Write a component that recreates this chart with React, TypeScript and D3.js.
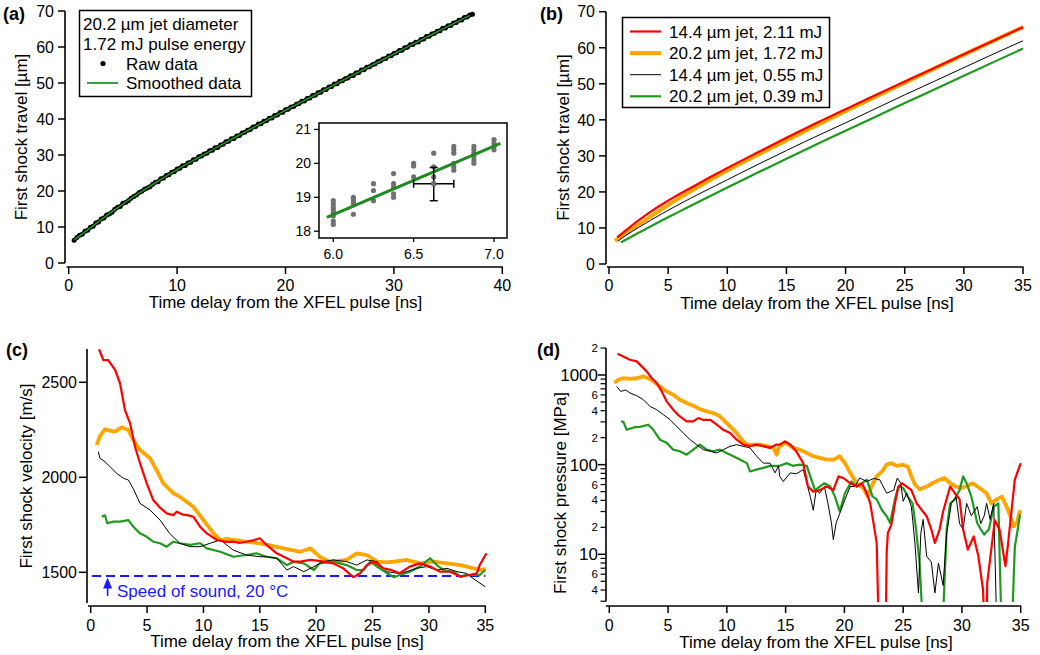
import React from "react";
import * as d3 from "d3";

type P = [number, number];

const FONT = "Arial, 'Liberation Sans', Helvetica, sans-serif";
const RED = "#ff0000";
const ORANGE = "#ffa500";
const BLACK = "#000000";
const GREEN = "#1f9a1f";
const BLUE = "#1a1aff";
const GRAY = "#707070";

// ---------- Panel (a): raw + smoothed travel (20.2 um jet, 1.72 mJ) ----------
const rawStart = 0.5;
const rawStep = 0.25;
const rawTravel = [6.3,7.1,7.7,8.0,8.8,9.1,9.9,10.2,11.1,11.4,12.2,12.5,13.3,13.6,14.1,14.9,15.5,15.7,16.6,16.8,17.3,18.0,18.5,18.9,19.6,19.9,20.5,20.8,21.2,21.9,22.4,22.6,23.4,23.6,24.3,24.5,25.2,25.4,26.1,26.3,27.0,27.1,27.8,28.0,28.7,28.8,29.5,29.7,30.3,30.5,31.2,31.3,32.0,32.1,32.8,33.0,33.7,33.8,34.5,34.6,35.3,35.4,36.1,36.3,36.9,37.1,37.8,37.9,38.6,38.7,39.4,39.5,40.2,40.3,41.0,41.1,41.8,41.9,42.6,42.7,43.3,43.5,44.1,44.3,44.9,45.0,45.7,45.8,46.5,46.6,47.3,47.4,48.1,48.2,48.9,49.0,49.7,49.8,50.5,50.6,51.2,51.4,52.0,52.1,52.8,52.9,53.6,53.7,54.4,54.5,55.1,55.3,55.9,56.1,56.7,56.8,57.5,57.6,58.2,58.4,59.0,59.1,59.8,59.9,60.6,60.7,61.3,61.4,62.1,62.2,62.9,63.0,63.6,63.8,64.4,64.5,65.2,65.3,65.9,66.0,66.7,66.8,67.4,67.5,68.2,68.3,68.9,69.1];
const smoothStart = 0.5;
const smoothStep = 0.5;
const smoothTravel = [6.45,7.55,8.67,9.79,10.91,12.04,13.16,14.26,15.33,16.39,17.43,18.44,19.42,20.38,21.34,22.29,23.22,24.15,25.06,25.95,26.82,27.67,28.51,29.35,30.18,31.01,31.84,32.67,33.5,34.32,35.14,35.96,36.78,37.59,38.4,39.2,40.01,40.82,41.63,42.42,43.21,43.99,44.77,45.55,46.33,47.12,47.92,48.72,49.52,50.3,51.08,51.86,52.64,53.42,54.2,54.98,55.76,56.53,57.31,58.08,58.86,59.63,60.4,61.17,61.94,62.71,63.47,64.23,64.98,65.74,66.49,67.25,68.0,68.76];

// Inset (a)
const insetFrames = [6.0, 6.125, 6.25, 6.375, 6.5, 6.625, 6.75, 6.875, 7.0];
const insetRaw = [
  [18.9, 18.8, 18.7, 18.63, 18.55, 18.45, 18.3, 18.2],
  [19.0, 18.92, 18.85, 18.78, 18.5],
  [19.4, 19.2, 18.9],
  [19.7, 19.4, 19.3, 19.1, 19.0],
  [20.0, 19.92, 19.6],
  [20.3, 19.9, 19.6, 19.4],
  [20.5, 20.4, 20.3, 20.0, 19.9, 19.8],
  [20.5, 20.4, 20.3, 20.2, 20.1, 20.0],
  [20.7, 20.6, 20.5, 20.4],
];
const insetFit: P[] = [[5.96, 18.41], [7.04, 20.59]];
const insetErr = { t: 6.625, v: 19.4, dt: 0.125, vLo: 18.9, vHi: 19.88 };

// ---------- Panel (b): travel for four conditions ----------
const travelRed: P[] = [[0.7,7.4],[1.5,9.52],[2.5,12.08],[3.5,14.46],[4.5,16.59],[5.5,18.55],[6.5,20.38],[7.5,22.19],[9,24.89],[10,26.65],[11,28.34],[12.5,30.84],[15,35.02],[16.5,37.48],[18,39.85],[20,42.96],[22,46.05],[25,50.61],[27.5,54.41],[30,58.22],[32.5,61.97],[35,65.72]];
const travelBlack: P[] = [[0.75,6.3],[1.5,8.08],[2.5,10.12],[3.5,12.1],[4.5,13.98],[5.5,15.8],[6.5,17.56],[7.5,19.25],[9,21.72],[10,23.36],[11,25.02],[12.5,27.48],[15,31.48],[16.5,33.85],[18,36.14],[20,39.17],[22,42.28],[25,46.93],[27.5,50.69],[30,54.48],[32.5,58.26],[35,61.93]];
const travelGreen: P[] = [[1.0,6.0],[1.5,6.89],[2.5,8.66],[3.5,10.42],[4.5,12.14],[5.5,13.82],[6.5,15.46],[7.5,17.11],[9,19.58],[10,21.22],[11,22.84],[12.5,25.23],[15,29.21],[16.5,31.58],[18,33.91],[20,36.97],[22,40.05],[25,44.65],[27.5,48.39],[30,52.21],[32.5,56.01],[35,59.76]];

const legendLabels = ["14.4 µm jet, 2.11 mJ", "20.2 µm jet, 1.72 mJ", "14.4 µm jet, 0.55 mJ", "20.2 µm jet, 0.39 mJ"];

// ---------- Panel (c): velocity ----------
const velRed: P[] = [[0.74,2674],[1.12,2617],[1.56,2617],[2.16,2565],[2.6,2495],[3.04,2354],[3.49,2285],[3.93,2161],[4.37,2075],[4.97,1968],[5.55,1880],[6.15,1840],[6.74,1810],[7.33,1801],[7.63,1819],[8.1,1805],[8.52,1801],[9.1,1793],[9.7,1740],[10.3,1705],[11.2,1670],[12.0,1660],[12.65,1661],[13.2,1655],[13.8,1661],[14.4,1668],[15.0,1679],[15.6,1644],[16.5,1600],[17.4,1574],[18.0,1556],[18.6,1556],[19.46,1565],[20.3,1560],[21.0,1552],[21.5,1547],[22.4,1521],[23.3,1474],[23.9,1495],[24.5,1538],[25.1,1556],[25.96,1521],[26.6,1513],[27.4,1495],[28.3,1530],[29.2,1547],[30.1,1530],[31.0,1503],[31.9,1503],[32.8,1477],[33.6,1486],[34.25,1495],[34.5,1538],[35.1,1600]];
const velOrange: P[] = [[0.53,2170],[0.8,2214],[1.25,2253],[1.7,2246],[2.16,2240],[2.75,2263],[3.34,2249],[3.78,2196],[4.37,2144],[5.26,2100],[5.85,2038],[6.44,1968],[7.33,1916],[7.9,1898],[9.1,1845],[10.0,1775],[10.9,1705],[11.5,1670],[12.1,1676],[12.65,1670],[13.8,1661],[15.0,1652],[16.0,1640],[17.1,1626],[18.6,1608],[19.5,1626],[20.3,1582],[21.2,1556],[22.0,1560],[22.7,1565],[23.6,1600],[24.5,1591],[25.4,1556],[26.2,1552],[26.9,1556],[28.0,1565],[29.2,1547],[30.4,1556],[31.6,1547],[32.8,1538],[33.95,1521],[34.8,1512],[35.0,1521]];
const velBlack: P[] = [[0.68,2135],[0.82,2100],[1.27,2082],[1.71,2056],[2.3,2021],[2.9,1995],[3.34,1986],[3.78,1940],[4.37,1863],[5.26,1828],[6.15,1775],[7.0,1705],[7.9,1653],[8.8,1635],[9.7,1635],[10.6,1653],[11.5,1670],[12.65,1617],[13.8,1591],[15.0,1582],[15.6,1582],[16.5,1574],[17.4,1512],[18.0,1530],[18.9,1503],[19.8,1530],[20.6,1556],[21.5,1565],[22.7,1556],[23.6,1538],[24.5,1565],[25.4,1556],[26.3,1503],[27.2,1495],[28.0,1503],[28.9,1521],[29.8,1530],[30.7,1512],[31.6,1521],[32.5,1503],[33.3,1495],[34.1,1460],[35.0,1424]];
const velGreen: P[] = [[0.98,1793],[1.27,1800],[1.47,1758],[2.0,1767],[2.6,1767],[3.34,1775],[3.78,1740],[4.37,1705],[4.97,1687],[5.55,1661],[6.15,1653],[6.74,1635],[7.33,1661],[7.9,1653],[8.8,1644],[9.7,1653],[10.3,1626],[11.5,1608],[12.65,1582],[13.8,1591],[14.7,1600],[15.6,1582],[16.5,1574],[17.4,1538],[18.0,1556],[18.9,1547],[19.8,1512],[20.3,1547],[21.5,1556],[22.7,1538],[23.6,1512],[24.2,1512],[24.8,1556],[25.4,1530],[26.3,1495],[26.9,1474],[27.4,1486],[28.3,1503],[29.2,1530],[30.1,1574],[30.7,1538],[31.3,1512],[32.2,1503],[32.8,1477],[33.3,1486],[33.95,1486],[34.5,1486],[35.0,1512]];
const soundSpeed = 1480;
const soundLabel = "Speed of sound, 20 °C";

// ---------- Panel (d): pressure (MPa) ----------
const presRed: P[] = [[0.71,1727],[1.19,1612],[1.76,1481],[2.33,1418],[2.76,1248],[3.18,1097],[3.6,925],[4.03,815],[4.46,656],[4.88,508],[5.44,410],[6.0,345],[6.58,304],[7.14,304],[7.57,331],[8.0,315],[8.6,315],[9.14,279],[9.7,245],[10.27,225],[10.84,190],[11.4,167],[11.97,161],[12.5,167],[13.1,161],[13.67,154],[14.2,167],[14.5,167],[14.95,182],[15.4,167],[15.9,141],[16.5,104],[16.9,57],[17.35,50],[17.9,52],[18.5,57],[19.06,52],[19.5,74],[19.9,71],[20.5,62],[21.05,57],[21.5,62],[21.9,48],[22.2,37],[22.46,23],[22.75,13.4],[22.95,1],[23.5,1],[23.6,10.4],[23.7,17.3],[24.0,21.4],[24.3,37],[24.6,57],[24.9,62],[25.3,57],[25.7,52],[26.15,37],[26.6,31],[27.0,26.6],[27.4,18.9],[27.7,13.4],[28.1,18.9],[28.4,30],[29.0,57],[29.4,48],[29.8,41],[30.1,18.9],[30.5,11.3],[31.0,15.8],[31.4,9.5],[31.8,4.0],[31.95,1],[32.1,1],[32.15,4.8],[32.8,24],[33.2,18.9],[33.7,7.4],[33.9,12.3],[34.2,29],[34.5,68],[34.8,88],[35.0,104]];
const presOrange: P[] = [[0.43,814],[0.77,887],[1.19,920],[1.76,905],[2.33,920],[2.9,964],[3.32,920],[3.74,849],[4.3,746],[4.88,656],[5.44,603],[6.0,530],[6.58,487],[7.14,455],[7.7,418],[8.29,393],[8.85,377],[9.42,345],[9.84,304],[10.27,267],[10.84,225],[11.26,190],[11.7,167],[12.27,167],[12.8,167],[13.4,161],[13.96,154],[14.24,129],[14.4,154],[14.5,160],[14.95,177],[15.65,154],[16.2,147],[16.8,135],[17.35,124],[17.9,119],[18.5,114],[19.1,114],[19.6,124],[20.05,104],[20.5,81],[21.05,62],[21.6,55],[22.0,44],[22.3,57],[22.75,74],[23.2,84],[23.6,100],[24.0,104],[24.45,97],[25.0,100],[25.4,95],[25.7,74],[26.0,60],[26.4,53],[27.0,57],[27.5,62],[28.1,68],[28.5,71],[29.0,62],[29.5,57],[29.95,55],[30.35,57],[30.9,62],[31.5,55],[32.1,48],[32.5,37],[32.95,41],[33.4,44],[33.8,34],[34.1,27],[34.4,20.5],[34.7,23],[34.95,31]];
const presBlack: P[] = [[0.63,746],[0.97,656],[1.4,680],[1.76,630],[2.33,588],[2.9,530],[3.46,447],[4.03,410],[4.6,361],[5.16,318],[5.73,267],[6.3,225],[6.87,190],[7.43,167],[8.0,147],[8.57,141],[9.14,135],[9.7,147],[10.27,160],[10.84,167],[11.4,160],[11.97,154],[12.54,124],[13.1,104],[13.67,104],[14.1,81],[14.4,97],[14.5,74],[14.8,65],[15.4,81],[15.9,79],[16.5,88],[16.8,62],[17.1,44],[17.35,31],[17.6,52],[17.9,48],[18.3,57],[18.6,37],[18.9,22.4],[19.06,14.6],[19.3,22.4],[19.6,28.4],[20.05,41],[20.5,57],[20.9,57],[21.3,71],[21.9,65],[22.5,70],[23.0,68],[23.6,48],[24.2,52],[24.5,71],[24.8,62],[25.0,39],[25.3,48],[25.7,34],[26.0,13.4],[26.3,3.7],[26.5,17],[26.7,24.5],[27.0,9.5],[27.4,8.2],[27.7,3.7],[28.0,8],[28.4,4.5],[28.7,17],[29.1,37],[29.5,44],[29.8,22],[30.1,19],[30.4,37],[30.8,27],[31.3,34],[31.6,22],[31.9,27],[32.1,37],[32.4,24.5],[32.7,37],[33.0,1]];
const presGreen: P[] = [[1.0,304],[1.2,300],[1.48,245],[2.05,260],[2.6,264],[3.32,279],[3.74,245],[4.3,190],[4.88,175],[5.44,147],[6.0,141],[6.58,129],[7.14,147],[7.7,167],[8.29,147],[8.85,141],[9.42,147],[9.98,135],[10.55,124],[11.1,114],[11.7,104],[11.97,84],[12.5,88],[13.1,92],[13.67,97],[14.2,97],[14.5,97],[15.1,104],[15.6,97],[16.2,100],[16.8,97],[17.1,74],[17.5,52],[17.9,57],[18.3,62],[18.8,57],[19.2,44],[19.6,30],[20.05,48],[20.6,65],[21.05,57],[21.5,62],[21.9,68],[22.4,44],[22.75,41],[23.2,31],[23.6,26.6],[23.9,22.4],[24.3,41],[24.6,57],[25.0,55],[25.4,44],[25.8,37],[26.1,18.9],[26.4,8],[26.75,1],[28.3,1],[28.7,19],[29.0,37],[29.4,41],[29.8,52],[30.1,74],[30.4,62],[30.8,44],[31.3,22.4],[31.6,19],[31.9,16.6],[32.3,19],[32.7,34],[33.1,37],[33.4,1],[34.2,1],[34.5,12],[34.95,28]];

const xTitle = "Time delay from the XFEL pulse [ns]";

type Scale = (v: number) => number;

function LeftAxis(props: { x: number; y0: number; y1: number; scale: Scale; ticks: number[]; fmt?: (v: number) => string; len?: number; fs?: number; gap?: number }) {
  const { x, y0, y1, scale, ticks, fmt = (v) => String(v), len = 7, fs = 16, gap = 4 } = props;
  return (
    <g>
      <line x1={x} x2={x} y1={y0} y2={y1} stroke="#000" strokeWidth={1.6} />
      {ticks.map((t) => (
        <g key={t}>
          <line x1={x - len} x2={x} y1={scale(t)} y2={scale(t)} stroke="#000" strokeWidth={1.5} />
          <text x={x - len - gap} y={scale(t)} dy="0.36em" textAnchor="end" fontSize={fs}>{fmt(t)}</text>
        </g>
      ))}
    </g>
  );
}

function BottomAxis(props: { y: number; x0: number; x1: number; scale: Scale; ticks: number[]; fmt?: (v: number) => string; len?: number; fs?: number; labelY: number }) {
  const { y, x0, x1, scale, ticks, fmt = (v) => String(v), len = 7, fs = 16, labelY } = props;
  return (
    <g>
      <line x1={x0} x2={x1} y1={y} y2={y} stroke="#000" strokeWidth={1.6} />
      {ticks.map((t) => (
        <g key={t}>
          <line x1={scale(t)} x2={scale(t)} y1={y} y2={y + len} stroke="#000" strokeWidth={1.5} />
          <text x={scale(t)} y={labelY} textAnchor="middle" fontSize={fs}>{fmt(t)}</text>
        </g>
      ))}
    </g>
  );
}

export default function App() {
  // ---- scales ----
  const xa = d3.scaleLinear().domain([0, 40]).range([68.7, 502.3]);
  const ya = d3.scaleLinear().domain([0, 70]).range([263, 11]);
  const xi = d3.scaleLinear().domain([5.911, 7.081]).range([319, 507]);
  const yi = d3.scaleLinear().domain([17.8, 21.19]).range([238, 123]);
  const xb = d3.scaleLinear().domain([0, 35]).range([609, 1023]);
  const yb = d3.scaleLinear().domain([0, 70]).range([264, 11.7]);
  const xc = d3.scaleLinear().domain([0, 35]).range([90.7, 485.3]);
  const yc = d3.scaleLinear().domain([1500, 2500]).range([572.3, 382.3]);
  const xd = d3.scaleLinear().domain([0, 35]).range([609.3, 1020.7]);
  const yd = d3.scaleLog().domain([3, 2000]).range([601.2, 348]);

  const rawPts: P[] = rawTravel.map((v, i) => [rawStart + i * rawStep, v]);
  const smoothPts: P[] = smoothTravel.map((v, i) => [smoothStart + i * smoothStep, v]);
  const orangeTravel: P[] = smoothPts.filter((p) => p[0] <= 35);

  const lineA = d3.line<P>().x((d) => xa(d[0])).y((d) => ya(d[1])).curve(d3.curveMonotoneX);
  const lineRaw = d3.line<P>().x((d) => xa(d[0])).y((d) => ya(d[1]));
  const lineI = d3.line<P>().x((d) => xi(d[0])).y((d) => yi(d[1]));
  const lineB = d3.line<P>().x((d) => xb(d[0])).y((d) => yb(d[1])).curve(d3.curveMonotoneX);
  const lineC = d3.line<P>().x((d) => xc(d[0])).y((d) => yc(d[1]));
  const lineD = d3.line<P>().x((d) => xd(d[0])).y((d) => yd(Math.max(d[1], 0.5)));

  const ticks70 = [0, 10, 20, 30, 40, 50, 60, 70];
  const ticks35 = [0, 5, 10, 15, 20, 25, 30, 35];

  // log ticks for (d)
  const majorLog = [10, 100, 1000];
  const minorLog: number[] = [];
  [1, 10, 100, 1000].forEach((dec) => {
    for (let m = 2; m <= 9; m++) {
      const v = m * dec;
      if (v >= 3 && v <= 2000) minorLog.push(v);
    }
  });
  const minorLabeled = new Set([4, 6, 20, 40, 60, 200, 400, 600, 2000]);

  const legendColors = [RED, ORANGE, BLACK, GREEN];
  const legendWidths = [2.2, 4, 1, 2.2];

  return (
    <svg width={1040} height={655} style={{ position: "absolute", left: 0, top: 0, background: "#fff" }} fontFamily={FONT} fill="#000">
      <defs>
        <clipPath id="clipC"><rect x={87} y={340} width={405} height={264} /></clipPath>
        <clipPath id="clipD"><rect x={606} y={346} width={420} height={256} /></clipPath>
        <marker id="arrowUp" viewBox="0 0 10 10" refX={5} refY={5} markerWidth={7} markerHeight={7} orient="auto-start-reverse">
          <path d="M0,1 L10,5 L0,9 z" fill={BLUE} />
        </marker>
      </defs>

      {/* ================= Panel (a) ================= */}
      <text x={3} y={20} fontSize={18} fontWeight="bold">(a)</text>
      <LeftAxis x={65} y0={ya(0)} y1={ya(70)} scale={ya} ticks={ticks70} />
      <BottomAxis y={267} x0={66.5} x1={xa(40) + 0.5} scale={xa} ticks={[0, 10, 20, 30, 40]} labelY={291} />
      <text transform={`translate(27,137) rotate(-90)`} textAnchor="middle" fontSize={17}>First shock travel [µm]</text>
      <text x={285.5} y={308} textAnchor="middle" fontSize={17}>{xTitle}</text>
      <path d={lineRaw(rawPts) || ""} fill="none" stroke="#000" strokeWidth={3.6} strokeLinejoin="round" strokeLinecap="round" />
      <g>
        {rawPts.map((p, i) => (
          <circle key={i} cx={xa(p[0])} cy={ya(p[1])} r={2.5} fill="#000" />
        ))}
      </g>
      <path d={lineA(smoothPts) || ""} fill="none" stroke={GREEN} strokeWidth={1.5} />

      {/* legend (a) */}
      <rect x={79.5} y={10.5} width={172} height={86} fill="#fff" stroke="#000" strokeWidth={1.5} />
      <text x={83} y={30} fontSize={17}>20.2 µm jet diameter</text>
      <text x={83} y={50} fontSize={17}>1.72 mJ pulse energy</text>
      <circle cx={103} cy={63.5} r={2.6} fill="#000" />
      <text x={126} y={69.5} fontSize={17}>Raw data</text>
      <line x1={87} x2={118} y1={83} y2={83} stroke={GREEN} strokeWidth={1.8} />
      <text x={126} y={89} fontSize={17}>Smoothed data</text>

      {/* inset (a) */}
      <rect x={319} y={123} width={188} height={115} fill="#fff" stroke="#000" strokeWidth={1.5} />
      {[18, 19, 20, 21].map((t) => (
        <g key={"iy" + t}>
          <line x1={314} x2={319} y1={yi(t)} y2={yi(t)} stroke="#000" strokeWidth={1.3} />
          <text x={311} y={yi(t)} dy="0.36em" textAnchor="end" fontSize={14}>{t}</text>
        </g>
      ))}
      {[6.0, 6.5, 7.0].map((t) => (
        <g key={"ix" + t}>
          <line x1={xi(t)} x2={xi(t)} y1={238} y2={242} stroke="#000" strokeWidth={1.3} />
          <text x={xi(t)} y={259} textAnchor="middle" fontSize={14}>{t.toFixed(1)}</text>
        </g>
      ))}
      <g>
        {insetFrames.map((t, i) =>
          insetRaw[i].map((v, j) => <circle key={i + "-" + j} cx={xi(t)} cy={yi(v)} r={2.6} fill={GRAY} />)
        )}
      </g>
      <path d={lineI(insetFit) || ""} fill="none" stroke="#1d8a1d" strokeWidth={3} />
      <g stroke="#000" strokeWidth={1.5}>
        <line x1={xi(insetErr.t - insetErr.dt)} x2={xi(insetErr.t + insetErr.dt)} y1={yi(insetErr.v)} y2={yi(insetErr.v)} />
        <line x1={xi(insetErr.t - insetErr.dt)} x2={xi(insetErr.t - insetErr.dt)} y1={yi(insetErr.v) - 4} y2={yi(insetErr.v) + 4} />
        <line x1={xi(insetErr.t + insetErr.dt)} x2={xi(insetErr.t + insetErr.dt)} y1={yi(insetErr.v) - 4} y2={yi(insetErr.v) + 4} />
        <line x1={xi(insetErr.t)} x2={xi(insetErr.t)} y1={yi(insetErr.vLo)} y2={yi(insetErr.vHi)} />
        <line x1={xi(insetErr.t) - 4} x2={xi(insetErr.t) + 4} y1={yi(insetErr.vLo)} y2={yi(insetErr.vLo)} />
        <line x1={xi(insetErr.t) - 4} x2={xi(insetErr.t) + 4} y1={yi(insetErr.vHi)} y2={yi(insetErr.vHi)} />
      </g>
      <circle cx={xi(insetErr.t)} cy={yi(insetErr.v)} r={2.6} fill={GRAY} />

      {/* ================= Panel (b) ================= */}
      <text x={540} y={20} fontSize={18} fontWeight="bold">(b)</text>
      <LeftAxis x={606} y0={yb(0)} y1={yb(70)} scale={yb} ticks={ticks70} />
      <BottomAxis y={267} x0={607} x1={xb(35) + 0.5} scale={xb} ticks={ticks35} labelY={291} />
      <text transform={`translate(568.5,137.5) rotate(-90)`} textAnchor="middle" fontSize={17}>First shock travel [µm]</text>
      <text x={817} y={309} textAnchor="middle" fontSize={17}>{xTitle}</text>
      <path d={lineB(orangeTravel) || ""} fill="none" stroke={ORANGE} strokeWidth={4} />
      <path d={lineB(travelGreen) || ""} fill="none" stroke={GREEN} strokeWidth={2.2} />
      <path d={lineB(travelBlack) || ""} fill="none" stroke={BLACK} strokeWidth={1} />
      <path d={lineB(travelRed) || ""} fill="none" stroke={RED} strokeWidth={2.2} />
      <rect x={622.5} y={17.5} width={207} height={90} fill="#fff" stroke="#000" strokeWidth={1.5} />
      {legendLabels.map((lab, i) => (
        <g key={lab + i}>
          <line x1={630} x2={661} y1={31.5 + i * 21.6} y2={31.5 + i * 21.6} stroke={legendColors[i]} strokeWidth={legendWidths[i]} />
          <text x={669} y={37.5 + i * 21.6} fontSize={17}>{lab}</text>
        </g>
      ))}

      {/* ================= Panel (c) ================= */}
      <text x={6} y={356} fontSize={18} fontWeight="bold">(c)</text>
      <LeftAxis x={87} y0={603} y1={349} scale={yc} ticks={[1500, 2000, 2500]} len={8} gap={2} />
      <BottomAxis y={606} x0={88} x1={xc(35) + 0.5} scale={xc} ticks={ticks35} labelY={630.5} />
      <text transform={`translate(32,476) rotate(-90)`} textAnchor="middle" fontSize={17}>First shock velocity [m/s]</text>
      <text x={287} y={647} textAnchor="middle" fontSize={17}>{xTitle}</text>
      <g clipPath="url(#clipC)">
        <line x1={xc(0.12)} x2={xc(35)} y1={yc(soundSpeed)} y2={yc(soundSpeed)} stroke={BLUE} strokeWidth={2} strokeDasharray="9,5" />
        <path d={lineC(velOrange) || ""} fill="none" stroke={ORANGE} strokeWidth={3.8} strokeLinejoin="round" />
        <path d={lineC(velGreen) || ""} fill="none" stroke={GREEN} strokeWidth={2.2} strokeLinejoin="round" />
        <path d={lineC(velBlack) || ""} fill="none" stroke={BLACK} strokeWidth={1} strokeLinejoin="round" />
        <path d={lineC(velRed) || ""} fill="none" stroke={RED} strokeWidth={2.2} strokeLinejoin="round" />
      </g>
      <line x1={xc(1.5)} x2={xc(1.5)} y1={596} y2={583} stroke={BLUE} strokeWidth={1.6} markerEnd="url(#arrowUp)" />
      <text x={117} y={597} fontSize={17} fill={BLUE}>{soundLabel}</text>

      {/* ================= Panel (d) ================= */}
      <text x={537} y={356} fontSize={18} fontWeight="bold">(d)</text>
      <g>
        <line x1={606} x2={606} y1={601.5} y2={348} stroke="#000" strokeWidth={1.6} />
        {majorLog.map((t) => (
          <g key={"M" + t}>
            <line x1={598} x2={606} y1={yd(t)} y2={yd(t)} stroke="#000" strokeWidth={1.5} />
            <text x={598} y={yd(t)} dy="0.36em" textAnchor="end" fontSize={17}>{t}</text>
          </g>
        ))}
        {minorLog.map((t) => (
          <g key={"m" + t}>
            <line x1={600.5} x2={606} y1={yd(t)} y2={yd(t)} stroke="#000" strokeWidth={1.2} />
            {minorLabeled.has(t) ? (
              <text x={598} y={yd(t)} dy="0.36em" textAnchor="end" fontSize={11.5}>{String(t)[0]}</text>
            ) : null}
          </g>
        ))}
      </g>
      <BottomAxis y={606} x0={606} x1={xd(35) + 0.5} scale={xd} ticks={ticks35} labelY={631} />
      <text transform={`translate(566,493) rotate(-90)`} textAnchor="middle" fontSize={17}>First shock pressure [MPa]</text>
      <text x={816} y={648} textAnchor="middle" fontSize={17}>{xTitle}</text>
      <g clipPath="url(#clipD)">
        <path d={lineD(presOrange) || ""} fill="none" stroke={ORANGE} strokeWidth={3.8} strokeLinejoin="round" />
        <path d={lineD(presGreen) || ""} fill="none" stroke={GREEN} strokeWidth={2.2} strokeLinejoin="round" />
        <path d={lineD(presBlack) || ""} fill="none" stroke={BLACK} strokeWidth={1} strokeLinejoin="round" />
        <path d={lineD(presRed) || ""} fill="none" stroke={RED} strokeWidth={2.2} strokeLinejoin="round" />
      </g>
    </svg>
  );
}
